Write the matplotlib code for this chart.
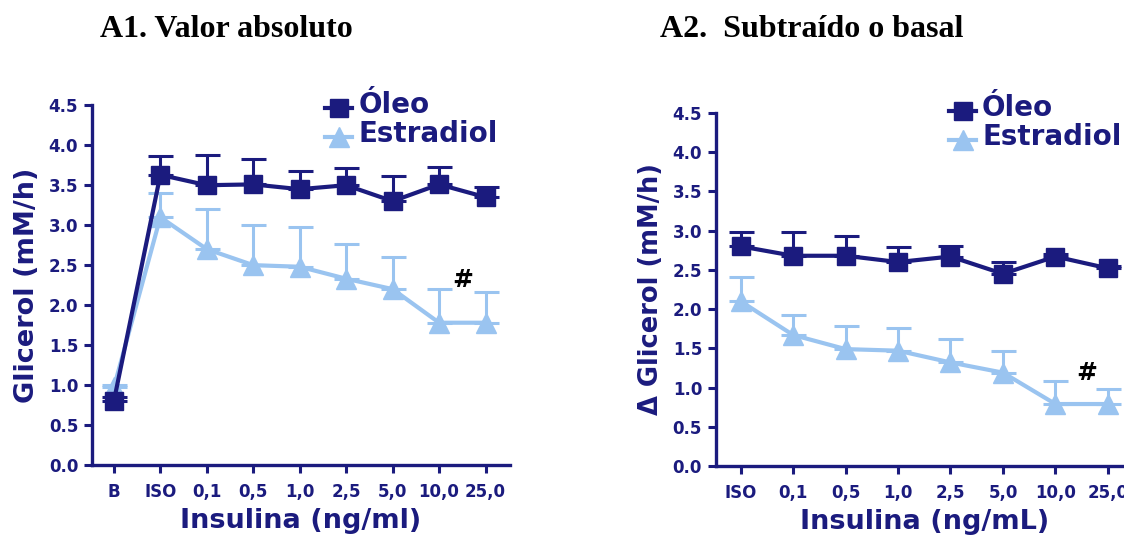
import numpy as np
import matplotlib.pyplot as plt
from matplotlib.lines import Line2D

plt.rcParams['font.family'] = ['DejaVu Sans']

navy = '#1b1b7e'
light = '#9ac4f0'

# A1 - valor absoluto
cats1 = ['B', 'ISO', '0,1', '0,5', '1,0', '2,5', '5,0', '10,0', '25,0']
oleo1 = [0.80, 3.63, 3.50, 3.51, 3.45, 3.50, 3.30, 3.51, 3.35]
oleo1_err = [0.05, 0.24, 0.38, 0.32, 0.23, 0.22, 0.31, 0.22, 0.13]
estr1 = [0.97, 3.10, 2.70, 2.50, 2.48, 2.33, 2.20, 1.78, 1.78]
estr1_err = [0.03, 0.30, 0.50, 0.50, 0.50, 0.44, 0.40, 0.42, 0.39]

# A2 - subtraido o basal
cats2 = ['ISO', '0,1', '0,5', '1,0', '2,5', '5,0', '10,0', '25,0']
oleo2 = [2.80, 2.68, 2.68, 2.60, 2.67, 2.45, 2.67, 2.52]
oleo2_err = [0.18, 0.30, 0.25, 0.19, 0.14, 0.15, 0.03, 0.03]
estr2 = [2.10, 1.67, 1.49, 1.47, 1.32, 1.19, 0.79, 0.79]
estr2_err = [0.31, 0.26, 0.29, 0.29, 0.30, 0.27, 0.29, 0.19]

fig = plt.figure(figsize=(11.24, 5.37), dpi=100)
ax1 = fig.add_axes([0.0819, 0.134, 0.372, 0.670])
ax2 = fig.add_axes([0.637, 0.1322, 0.372, 0.6574])


def draw(ax, cats, oleo, oerr, estr, eerr, ylabel, xlabel, xlim, leg_anchor, ylsize):
    x = np.arange(len(cats))
    ax.errorbar(x, estr, yerr=[np.zeros(len(x)), eerr], color=light, lw=3,
                marker='^', ms=14, capsize=9, capthick=2.2, elinewidth=2.2,
                zorder=2)
    ax.errorbar(x, oleo, yerr=[np.zeros(len(x)), oerr], color=navy, lw=3,
                marker='s', ms=13.5, capsize=9, capthick=2.2, elinewidth=2.2,
                zorder=3)
    ax.set_xlim(*xlim)
    ax.set_ylim(0, 4.5)
    ax.set_yticks(np.arange(0, 4.6, 0.5))
    ax.set_yticklabels(['%.1f' % v for v in np.arange(0, 4.6, 0.5)])
    ax.set_xticks(x)
    ax.set_xticklabels(cats)
    for s in ['top', 'right']:
        ax.spines[s].set_visible(False)
    for s in ['left', 'bottom']:
        ax.spines[s].set_linewidth(2.4)
        ax.spines[s].set_color(navy)
    ax.tick_params(colors=navy, width=2.2, length=6, labelsize=12, pad=4)
    ax.tick_params(axis='x', pad=7)
    for t in ax.get_xticklabels() + ax.get_yticklabels():
        t.set_fontweight('bold')
    ax.set_ylabel(ylabel, color=navy, fontsize=ylsize, fontweight='bold', labelpad=6)
    ax.set_xlabel(xlabel, color=navy, fontsize=19.5, fontweight='bold', labelpad=5)
    handles = [Line2D([], [], color=navy, lw=3, marker='s', ms=13.5),
               Line2D([], [], color=light, lw=3, marker='^', ms=14)]
    leg = ax.legend(handles, ['Óleo', 'Estradiol'], loc='upper left',
                    bbox_to_anchor=leg_anchor, frameon=False, handlelength=1.9,
                    handletextpad=0.45, labelspacing=0.05, borderaxespad=0)
    for t in leg.get_texts():
        t.set_color(navy)
        t.set_fontsize(20)
        t.set_fontweight('bold')
    return x


draw(ax1, cats1, oleo1, oleo1_err, estr1, estr1_err,
     'Glicerol (mM/h)', 'Insulina (ng/ml)', (-0.47, 8.53), (0.545, 1.055), 19.5)
draw(ax2, cats2, oleo2, oleo2_err, estr2, estr2_err,
     '\u0394 Glicerol (mM/h)', 'Insulina (ng/mL)', (-0.47, 7.5), (0.545, 1.07), 18.5)
ax2.spines['bottom'].set_bounds(-0.47, 7.6)

ax1.text(7.5, 2.32, '#', fontsize=18, fontweight='bold', ha='center', va='center')
ax2.text(6.6, 1.19, '#', fontsize=18, fontweight='bold', ha='center', va='center')

fig.text(0.089, 0.945, 'A1. Valor absoluto', family='Liberation Serif',
         fontsize=23, fontweight='bold', va='center')
fig.text(0.587, 0.945, 'A2.  Subtraído o basal', family='Liberation Serif',
         fontsize=23, fontweight='bold', va='center')

fig.savefig('out.png', dpi=100)
